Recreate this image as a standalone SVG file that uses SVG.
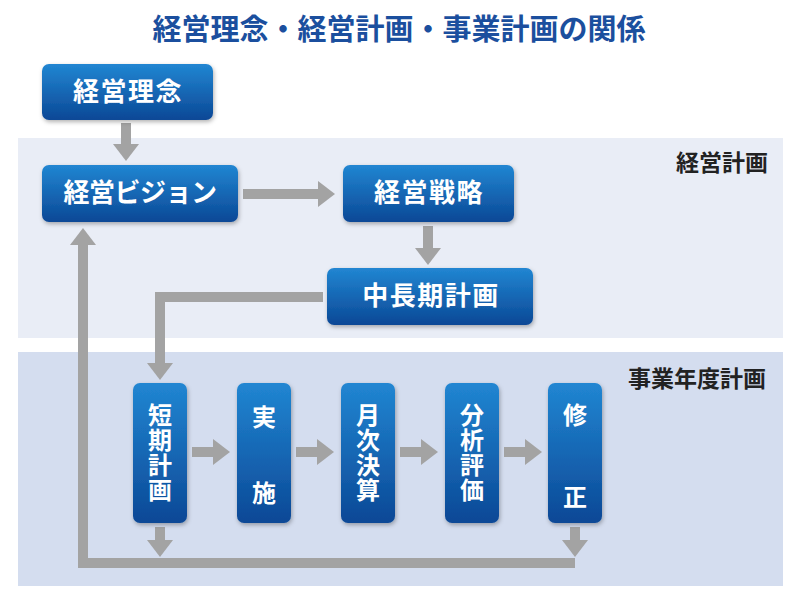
<svg xmlns="http://www.w3.org/2000/svg" width="800" height="600" viewBox="0 0 800 600">
<defs>
<linearGradient id="g" x1="0" y1="0" x2="0" y2="1">
<stop offset="0" stop-color="#2186d2"/>
<stop offset="1" stop-color="#0b4896"/>
</linearGradient>
<filter id="sh" x="-20%" y="-20%" width="140%" height="140%">
<feDropShadow dx="1" dy="2" stdDeviation="2" flood-color="#000" flood-opacity="0.3"/>
</filter>
<marker id="ah" viewBox="0 0 17 26" refX="0" refY="13" markerWidth="17" markerHeight="26" markerUnits="userSpaceOnUse" orient="auto">
<path d="M0,0 L17,13 L0,26 z" fill="#a3a3a3"/>
</marker>
</defs>
<style>
.box{fill:url(#g);filter:url(#sh)}
.t{font-family:"Noto Sans CJK JP","Noto Sans",sans-serif;font-weight:bold;fill:#fff;text-anchor:middle}
.h{font-size:26px;letter-spacing:1.5px}
.v{font-size:24px;writing-mode:vertical-rl;letter-spacing:1px}
.lbl{font-family:"Noto Sans CJK JP","Noto Sans",sans-serif;font-weight:bold;font-size:23px;fill:#222}
.c{fill:none;stroke:#a3a3a3;stroke-width:10;marker-end:url(#ah)}
</style>
<rect width="800" height="600" fill="#fff"/>
<rect x="18" y="138" width="765" height="200" fill="#e9edf6"/>
<rect x="18" y="352" width="765" height="234" fill="#d4ddef"/>
<text x="399" y="40" font-family="'Noto Sans CJK JP','Noto Sans',sans-serif" font-weight="bold" font-size="29" fill="#1b4f9e" text-anchor="middle">経営理念・経営計画・事業計画の関係</text>
<text class="lbl" x="768" y="171" text-anchor="end">経営計画</text>
<text class="lbl" x="766" y="387" text-anchor="end">事業年度計画</text>
<g id="connectors">
<path class="c" d="M126,123 V144"/>
<path class="c" d="M243,194 H318"/>
<path class="c" d="M428,226 V248"/>
<path class="c" d="M323,297 H160 V363"/>
<path class="c" d="M192,452 H213"/>
<path class="c" d="M296,452 H317"/>
<path class="c" d="M400,452 H421"/>
<path class="c" d="M504,452 H525"/>
<path class="c" d="M160,527 V540"/>
<path class="c" d="M575,527 V540"/>
<path class="c" d="M575,563 H83 V245"/>
</g>
<g id="rinen"><rect class="box" x="42" y="64" width="171" height="56" rx="7"/><text class="t h" x="128" y="101">経営理念</text></g>
<g id="vision"><rect class="box" x="42" y="165" width="196" height="57" rx="7"/><text class="t h" x="140" y="202" style="letter-spacing:-0.5px">経営ビジョン</text></g>
<g id="senryaku"><rect class="box" x="343" y="165" width="171" height="57" rx="7"/><text class="t h" x="429" y="202">経営戦略</text></g>
<g id="chuki"><rect class="box" x="327" y="268" width="206" height="57" rx="7"/><text class="t h" x="431" y="305">中長期計画</text></g>
<g id="tanki"><rect class="box" x="133" y="383" width="54" height="140" rx="7"/><text class="t v" x="160" y="453">短期計画</text></g>
<g id="jisshi"><rect class="box" x="237" y="383" width="54" height="140" rx="7"/><text class="t v" x="264" y="417">実</text><text class="t v" x="264" y="493">施</text></g>
<g id="getsuji"><rect class="box" x="341" y="383" width="54" height="140" rx="7"/><text class="t v" x="368" y="453">月次決算</text></g>
<g id="bunseki"><rect class="box" x="445" y="383" width="54" height="140" rx="7"/><text class="t v" x="472" y="453">分析評価</text></g>
<g id="shusei"><rect class="box" x="548" y="383" width="54" height="140" rx="7"/><text class="t v" x="575" y="415">修</text><text class="t v" x="575" y="497">正</text></g>
</svg>
